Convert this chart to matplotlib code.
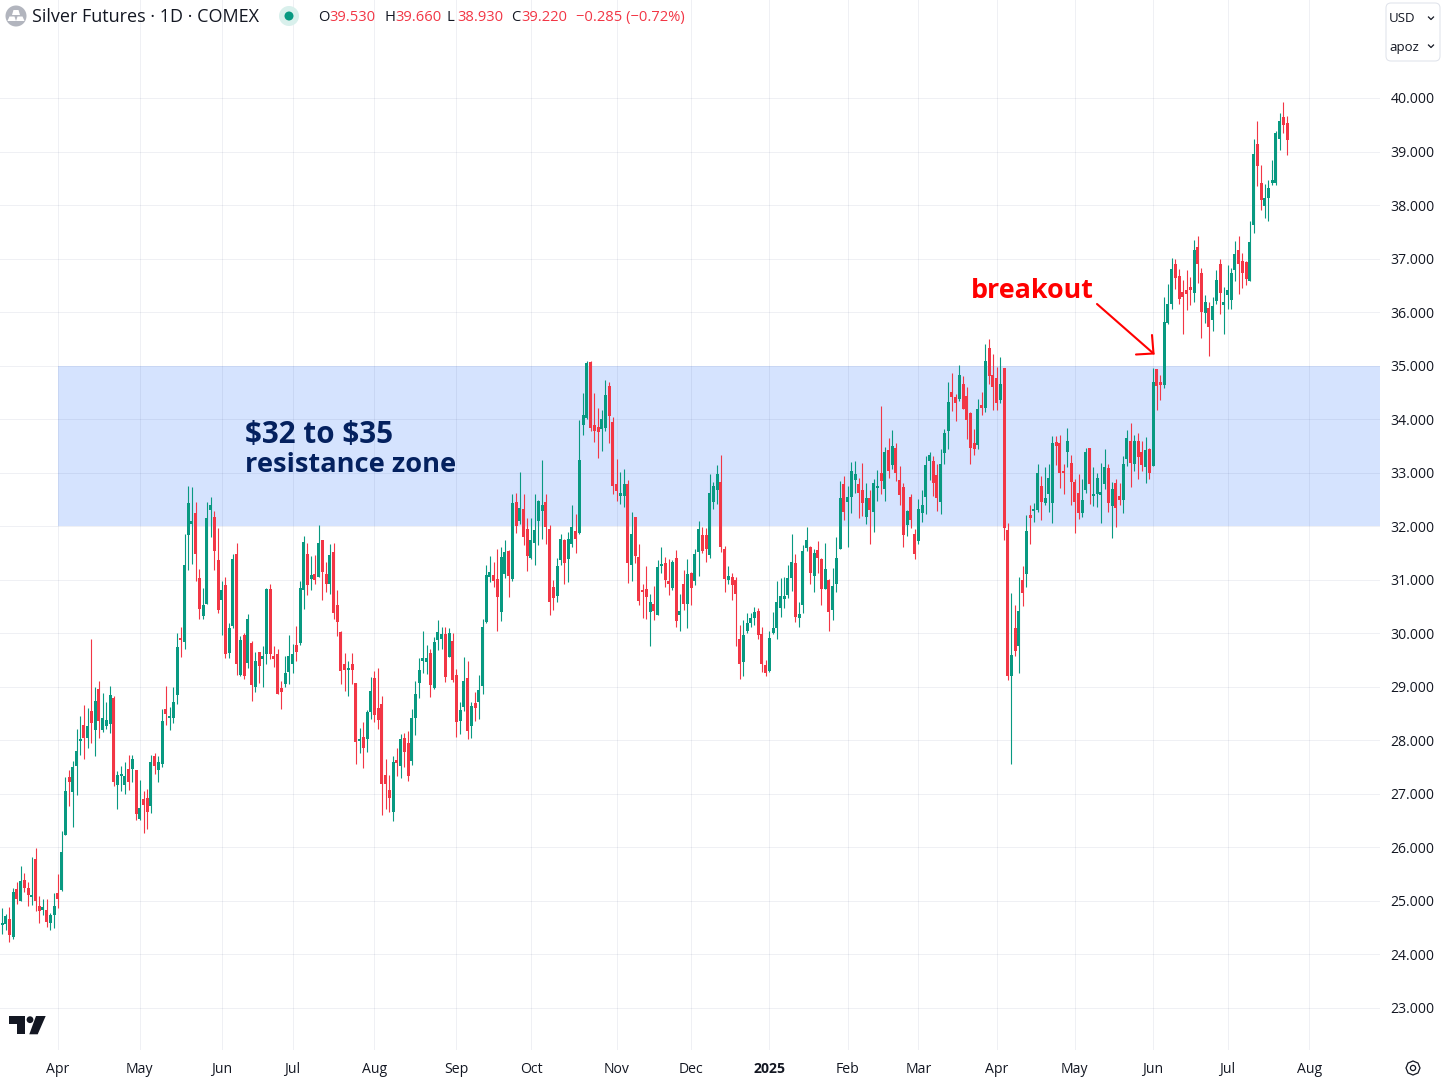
import numpy as np
import matplotlib
matplotlib.use("Agg")
import matplotlib.pyplot as plt
from matplotlib.patches import Circle, Polygon, FancyBboxPatch, Rectangle, RegularPolygon

plt.rcParams['font.family'] = ['Open Sans', 'DejaVu Sans']

opens = [
24.55,24.57,24.67,24.32,25.23,25.00,25.40,25.25,25.08,25.79,24.91,24.84,24.84,24.58,24.74,25.14,25.21,26.24,27.31,27.04,
27.53,27.98,28.29,28.04,28.55,28.19,28.95,28.19,28.27,28.30,28.79,27.17,27.33,27.17,27.47,27.47,27.45,26.54,26.91,26.93,
26.78,27.71,27.45,27.55,28.58,28.42,28.42,28.84,29.91,29.83,31.84,32.05,32.24,31.04,30.33,30.55,32.31,32.18,31.36,30.63,
30.91,29.64,30.14,31.49,
29.23,29.96,29.45,29.81,29.00,29.65,29.52,29.61,30.83,29.58,29.61,28.97,29.06,29.27,29.43,29.79,29.81,30.81,31.49,31.02,
31.10,31.06,31.75,31.11,30.93,31.51,30.52,30.03,29.43,29.31,29.43,29.08,27.98,28.06,28.03,28.53,29.16,28.61,28.67,27.36,
27.08,26.67,27.64,27.53,28.04,27.95,27.62,28.42,29.08,29.49,29.47,29.64,28.97,29.88,29.90,29.99,29.56,29.86,29.23,28.37,
28.62,29.16,
28.26,28.69,28.71,29.01,
30.21,31.06,31.08,31.02,30.40,31.10,31.54,31.01,32.45,32.10,32.32,31.95,31.41,31.69,32.10,32.29,32.45,31.95,30.86,30.69,
31.36,31.74,31.38,31.67,31.91,31.88,33.89,34.02,35.07,33.89,33.85,33.82,33.84,34.62,33.95,32.79,32.57,32.57,32.79,31.28,
32.18,31.42,30.79,30.83,30.40,30.54,30.35,31.25,31.31,30.96,30.85,31.40,30.34,30.93,30.54,31.12,30.97,
31.51,31.84,31.84,31.47,32.46,32.67,32.82,31.58,31.00,31.05,30.99,29.90,29.47,30.05,30.20,30.29,30.42,29.99,29.40,29.30,
30.00,30.09,30.47,30.64,30.71,31.03,31.31,30.29,30.53,31.60,31.62,31.07,31.56,31.38,30.83,30.99,30.43,30.92,31.58,32.78,
32.46,32.54,32.87,32.78,32.67,32.18,32.52,32.26,32.72,32.99,32.69,33.42,33.15,33.46,32.86,32.74,32.03,32.55,31.86,31.72,
32.25,32.55,
33.21,33.21,32.95,32.45,33.36,33.78,34.51,34.41,34.38,34.66,34.43,34.11,33.55,33.51,34.27,34.21,35.33,34.83,34.77,34.36,
34.96,31.93,29.21,30.10,29.76,30.99,31.10,32.21,32.29,32.30,32.76,32.44,32.61,32.44,33.57,33.55,33.02,33.38,33.19,32.82,
32.63,32.25,32.67,33.47,32.57,32.60,32.59,32.78,33.08,32.38,32.80,32.56,32.49,33.25,33.59,33.17,33.60,33.38,33.10,33.45,
33.12,
34.93,34.69,34.63,35.79,36.16,36.89,36.68,36.38,36.42,36.44,36.36,37.21,36.74,35.99,36.08,35.86,36.21,36.89,36.14,36.32,
36.23,36.79,37.16,36.95,36.93,36.58,37.63,39.14,38.42,37.99,38.14,38.42,38.42,39.23,39.64,39.53]

highs = [
24.87,24.75,24.89,25.25,25.36,25.66,25.53,25.36,25.83,25.98,25.10,25.04,25.04,24.78,25.14,25.51,26.30,27.32,27.45,27.62,
28.21,28.45,28.66,28.60,29.90,28.99,29.10,28.89,28.72,29.01,28.82,27.42,27.53,27.60,27.73,27.73,27.45,27.25,27.06,27.10,
27.73,27.77,27.71,28.58,29.01,28.62,28.99,30.00,30.12,31.86,32.76,32.74,32.46,31.21,30.85,32.46,32.54,32.29,31.96,30.98,
31.06,30.20,31.49,31.69,
29.95,30.00,30.36,29.85,29.65,29.65,29.76,30.85,30.92,29.76,29.71,29.10,29.57,29.97,29.80,30.14,30.98,31.81,31.69,31.45,
31.47,32.03,31.75,31.34,31.66,31.68,30.81,30.05,29.63,29.48,29.63,29.08,28.23,28.34,28.57,29.19,29.29,29.36,28.82,27.66,
27.36,27.70,27.85,28.12,28.14,28.18,28.59,29.10,29.54,30.05,29.79,29.71,29.93,30.24,30.12,30.12,30.10,30.01,29.34,28.71,
29.55,29.48,
28.71,28.90,29.22,30.26,
31.28,31.45,31.34,31.58,31.62,31.75,31.56,32.60,32.62,33.02,32.60,32.16,32.16,32.60,32.49,33.23,32.60,32.02,31.00,31.40,
31.86,31.76,31.89,32.40,32.23,33.98,34.49,35.09,35.09,34.49,34.21,34.17,34.73,34.69,34.04,33.25,33.01,33.06,32.86,32.27,
32.18,31.67,30.93,31.25,30.74,30.89,31.36,31.62,31.42,31.38,31.36,31.55,30.74,31.19,31.38,31.14,31.57,
32.09,31.98,31.96,32.97,32.82,33.15,33.34,31.64,31.25,31.12,31.05,30.16,30.25,30.37,30.37,30.50,30.48,30.12,29.51,30.05,
30.40,30.97,31.03,31.05,31.27,31.86,31.48,30.58,31.65,31.99,31.63,31.58,31.73,31.40,31.69,31.01,31.22,31.79,32.84,32.93,
32.76,33.20,33.22,32.91,33.18,32.81,32.68,32.88,33.05,34.25,33.48,33.65,33.80,33.55,33.12,32.81,32.31,32.61,31.94,32.50,
32.68,33.31,
33.38,33.31,33.16,33.45,33.81,34.70,34.86,34.47,35.01,34.81,34.60,34.13,33.81,34.38,34.51,35.40,35.50,35.22,34.97,35.16,
34.96,32.06,30.76,30.53,31.06,31.25,32.21,32.40,32.44,33.17,32.93,33.10,33.17,33.68,33.68,33.70,33.17,33.83,33.34,32.89,
32.97,32.88,33.47,33.47,33.10,33.00,33.19,33.44,33.16,32.82,32.88,32.80,33.31,33.80,33.93,33.70,33.75,33.59,33.66,33.47,
34.96,
34.93,34.82,36.28,36.53,37.02,36.99,36.81,36.60,36.78,36.65,37.34,37.42,36.82,36.32,36.18,36.29,36.78,36.99,36.47,36.88,
36.82,37.32,37.43,37.10,36.95,37.70,39.23,39.57,38.75,38.40,38.47,38.85,39.38,39.72,39.93,39.66]

lows = [
24.39,24.45,24.23,24.28,24.95,25.00,25.16,24.91,24.93,24.82,24.58,24.73,24.52,24.45,24.50,24.86,25.19,26.24,26.78,26.39,
26.97,27.73,27.65,27.86,27.95,27.71,28.05,28.15,28.21,28.14,27.15,26.71,27.06,27.00,27.08,27.23,26.52,26.52,26.26,26.35,
26.65,27.38,27.23,27.51,28.29,28.19,28.32,28.68,29.56,29.71,31.19,31.30,30.98,30.27,30.26,30.55,31.79,31.19,30.37,29.96,
29.53,29.54,30.09,29.23,
29.21,29.14,29.36,28.73,28.91,29.08,28.99,29.43,29.52,29.37,28.86,28.58,28.99,29.06,29.25,29.49,29.79,30.46,30.72,30.80,
30.93,31.06,30.63,30.78,30.74,30.27,29.95,29.06,28.93,28.82,29.06,27.56,27.77,27.48,27.78,28.40,28.34,28.22,26.60,26.71,
26.67,26.50,27.33,27.30,27.51,27.24,27.54,28.10,28.79,29.26,29.24,28.81,28.95,29.69,29.71,29.09,29.56,29.09,28.06,28.11,
28.54,28.02,
28.04,28.36,28.40,28.86,
30.19,30.95,30.86,30.05,30.23,31.04,30.68,30.97,31.88,32.04,31.65,31.16,31.39,31.28,31.65,31.76,31.67,30.35,30.43,30.58,
31.27,30.93,30.96,31.61,31.50,31.86,33.70,34.00,33.78,33.58,33.27,33.41,33.78,33.56,32.61,32.47,32.41,32.36,30.94,30.97,
31.31,30.53,30.28,30.26,29.76,30.25,30.35,31.12,30.86,30.71,30.81,30.11,30.04,30.43,30.10,30.52,30.91,
31.07,31.50,31.34,31.40,32.33,32.42,31.51,30.77,30.92,30.63,29.77,29.15,29.21,30.01,30.12,30.16,29.90,29.28,29.20,29.28,
29.98,29.89,30.30,30.47,30.66,30.79,30.21,30.12,30.38,31.54,30.92,30.77,31.13,30.52,30.83,30.05,30.25,30.77,31.58,32.12,
31.62,32.24,32.62,32.16,32.20,32.05,31.66,31.90,32.48,32.61,32.48,32.90,33.07,32.85,32.40,31.62,31.81,31.96,31.38,31.66,
32.07,32.22,
32.86,32.57,32.29,32.23,33.17,33.44,34.15,33.97,34.34,34.19,33.63,33.17,33.34,33.44,34.08,34.14,34.66,34.17,34.17,34.30,
31.74,29.12,27.56,29.58,29.26,30.51,30.86,31.67,32.08,32.27,32.12,32.39,32.27,32.06,33.14,32.71,32.60,33.10,32.40,31.88,
32.14,32.17,32.63,32.42,32.38,32.36,32.06,32.69,32.27,31.78,31.99,32.40,32.25,33.12,32.74,33.03,32.88,33.04,32.80,32.88,
33.12,
34.17,34.35,34.59,35.77,36.06,36.44,36.16,35.59,36.04,36.14,36.18,36.54,35.51,35.79,35.18,35.65,36.16,35.97,35.59,36.06,
36.06,36.58,36.34,36.45,36.50,36.58,37.48,38.36,37.91,37.76,37.71,38.38,38.38,39.02,39.34,38.93]

closes = [
24.57,24.72,24.37,25.16,25.04,25.38,25.25,25.12,25.10,24.99,24.82,24.89,24.60,24.74,24.91,25.04,25.92,27.06,27.23,27.51,
27.81,28.00,28.04,28.27,28.32,28.73,28.36,28.42,28.38,28.85,27.23,27.36,27.35,27.34,27.23,27.66,26.63,26.74,26.80,26.67,
27.60,27.53,27.60,28.37,28.49,28.45,28.72,29.74,29.88,31.28,32.44,32.09,31.49,30.46,30.52,32.16,32.39,31.53,30.44,30.80,
29.62,30.09,31.38,29.43,
29.87,29.21,30.27,29.04,29.48,29.39,29.58,30.83,29.61,29.52,28.86,28.91,29.25,29.57,29.61,29.65,30.85,31.71,30.91,31.08,
31.00,31.69,31.15,30.93,31.47,30.37,30.22,29.30,29.32,29.33,29.32,27.97,28.02,27.86,28.53,28.93,28.47,28.38,27.19,27.19,
26.93,27.60,27.57,28.02,27.78,27.33,28.42,28.87,29.32,29.52,29.54,29.03,29.84,30.03,29.99,29.19,30.01,29.13,28.34,28.56,
29.10,28.17,
28.65,28.60,28.94,30.11,
31.08,31.14,30.97,30.67,31.42,31.52,31.07,32.43,32.01,32.34,31.80,31.45,31.74,31.93,32.47,32.40,31.99,30.58,30.65,31.25,
31.76,31.31,31.76,31.99,31.76,33.23,34.08,35.05,33.84,33.78,33.76,34.00,34.45,34.06,32.76,32.66,32.62,32.79,31.31,31.86,
31.45,30.60,30.77,30.67,30.58,30.41,31.23,31.27,30.99,30.93,31.34,30.23,30.41,30.54,31.10,30.84,31.49,
31.94,31.53,31.58,32.63,32.76,32.98,31.62,31.01,31.07,30.90,30.73,29.42,29.97,30.20,30.29,30.40,29.96,29.42,29.25,29.92,
30.09,30.59,30.70,30.70,31.03,31.33,30.31,30.36,31.54,31.75,31.13,31.50,31.41,30.83,31.20,30.40,30.88,31.41,32.52,32.26,
32.54,33.03,32.98,32.63,32.44,32.52,32.31,32.80,32.74,32.85,33.39,33.03,33.50,33.00,32.59,31.83,32.29,32.11,31.49,32.33,
32.40,33.15,
33.34,32.80,32.52,33.16,33.75,34.33,34.42,34.30,34.83,34.19,33.99,33.47,33.44,34.19,34.21,35.09,34.81,34.60,34.30,34.66,
31.97,29.21,29.60,29.67,30.42,30.75,31.91,32.16,32.31,32.99,32.45,32.53,32.91,33.55,33.49,32.99,32.99,33.59,32.82,32.45,
32.25,32.49,33.38,32.78,32.61,32.91,32.64,33.10,32.44,32.69,32.34,32.49,33.17,33.64,33.19,33.60,33.29,33.14,33.42,33.00,
34.70,
34.62,34.63,35.81,36.16,36.81,36.64,36.25,36.28,36.34,36.42,37.16,36.89,36.01,36.19,35.73,36.12,36.60,36.36,36.19,36.42,
36.73,37.08,36.89,36.73,36.62,37.31,38.95,38.73,38.10,38.14,38.32,38.47,39.34,39.57,39.49,39.22]

month_labels = ['Apr','May','Jun','Jul','Aug','Sep','Oct','Nov','Dec','2025','Feb','Mar','Apr','May','Jun','Jul','Aug']
month_index = [15,37,59,78,100,122,142,165,185,206,227,246,267,288,309,329,351]
price_ticks = list(range(23, 41))
zone_low, zone_high = 32, 35
zone_start = 15

W, H = 1442, 1082
UP, DOWN = '#089981', '#f23645'
INK = '#131722'

fig = plt.figure(figsize=(W/100, H/100), dpi=100, facecolor='white')
AX_R, AX_B = 1380, 1050
ax = fig.add_axes([0, 1-AX_B/H, AX_R/W, AX_B/H])

o, h, l, c = map(np.array, (opens, highs, lows, closes))
n = len(o)
idx = np.arange(n)
step = 3.725
X0 = 2.0
ax.set_xlim(-X0/step, (AX_R-X0)/step)
ppu = (1008-98)/17
ax.set_ylim(23-(AX_B-1008)/ppu, 40+98/ppu)

up = c >= o
colors = np.where(up, UP, DOWN)
ax.vlines(idx, l, h, colors=colors, linewidth=0.8, zorder=3)
ax.bar(idx, np.maximum(np.abs(c-o), 0.04), bottom=np.minimum(o, c), width=3.0/step,
       color=colors, linewidth=0, zorder=4)

ax.add_patch(Rectangle((zone_start, zone_low), ax.get_xlim()[1]-zone_start, zone_high-zone_low,
                       facecolor='#d5e3fe', edgecolor='none', zorder=1))

ax.set_xticks(month_index)
ax.set_xticklabels(month_labels)
ax.set_yticks(price_ticks)
ax.set_yticklabels([f'{p:.3f}' for p in price_ticks])
ax.yaxis.tick_right()
ax.tick_params(axis='both', length=0, labelsize=10.1, labelcolor=INK)
ax.tick_params(axis='y', pad=7.6)
ax.tick_params(axis='x', pad=8.3)
for t in ax.get_xticklabels():
    if t.get_text() == '2025':
        t.set_fontweight('bold')
ax.grid(True, color=(0.15, 0.2, 0.4), alpha=0.07, linewidth=0.75)
ax.set_axisbelow(False)
for s in ax.spines.values():
    s.set_visible(False)

ov = fig.add_axes([0, 0, 1, 1], facecolor='none', zorder=10)
ov.set_xlim(0, W); ov.set_ylim(H, 0); ov.axis('off')

def T(x, y, s, **kw):
    kw.setdefault('va', 'center'); kw.setdefault('ha', 'left'); kw.setdefault('color', INK)
    kw.setdefault('parse_math', False)
    return ov.text(x, y, s, **kw)

ov.add_patch(Circle((16, 16), 10.5, fc='#b2b5be', ec='none'))
ov.add_patch(Polygon([(13.5, 10), (18.5, 10), (20, 15), (12, 15)], fc='white', ec='none'))
ov.add_patch(Polygon([(9.5, 16.5), (14.5, 16.5), (16, 21), (7.5, 21)], fc='white', ec='none'))
ov.add_patch(Polygon([(17.5, 16.5), (22.5, 16.5), (24.5, 21), (16, 21)], fc='white', ec='none'))
T(32, 17, 'Silver Futures · 1D · COMEX', fontsize=13)
ov.add_patch(Circle((289, 16), 10, fc='#d9f0ec', ec='none'))
ov.add_patch(Circle((289, 16), 4.5, fc=UP, ec='none'))
for xl, lab, xv, val in [(318, 'O', 329, '39.530'), (384, 'H', 395, '39.660'),
                         (447, 'L', 457, '38.930'), (511, 'C', 521, '39.220')]:
    T(xl, 17.5, lab, fontsize=10.6)
    T(xv, 17.5, val, fontsize=10.6, color=DOWN)
T(576, 17.5, '−0.285 (−0.72%)', fontsize=10.6, color=DOWN)

ov.add_patch(FancyBboxPatch((1386, 3), 54, 58, boxstyle='round,pad=0,rounding_size=5',
                            fc='white', ec='#e0e3eb', lw=0.75))
T(1389, 18.5, 'USD', fontsize=9.5)
T(1389, 47.5, 'apoz', fontsize=9.5)
for yy in (18, 46):
    ov.plot([1428.5, 1431, 1433.5], [yy-1, yy+1.5, yy-1], color=INK, lw=0.9)

ov.add_patch(Polygon([(9.3, 1016), (25, 1016), (25, 1034.3), (16.7, 1034.3), (16.7, 1024), (9.3, 1024)], fc=INK, ec='none'))
ov.add_patch(Circle((30, 1019.7), 3.4, fc=INK, ec='none'))
ov.add_patch(Polygon([(36, 1016), (45.7, 1016), (37.7, 1034.3), (29.3, 1034.3)], fc=INK, ec='none'))

ov.add_patch(RegularPolygon((1413, 1068), 8, radius=7, fc='white', ec=INK, lw=0.9))
ov.add_patch(Circle((1413, 1068), 2.6, fc='white', ec=INK, lw=0.9))

NAVY = '#04215f'
T(245, 435, '$32 to $35', fontsize=21.3, fontweight='bold', color=NAVY)
T(245, 465, 'resistance zone', fontsize=19.6, fontweight='bold', color=NAVY)
T(971, 291, 'breakout', fontsize=19.4, fontweight='bold', color='#ff0000')
ov.plot([1097, 1153.5], [304, 353.5], color='#ff0000', lw=1.5, solid_capstyle='round')
ov.plot([1136, 1153.5, 1152], [354.5, 353.5, 335], color='#ff0000', lw=1.5, solid_capstyle='round', solid_joinstyle='miter')

fig.savefig('out.png', dpi=100, facecolor='white')
